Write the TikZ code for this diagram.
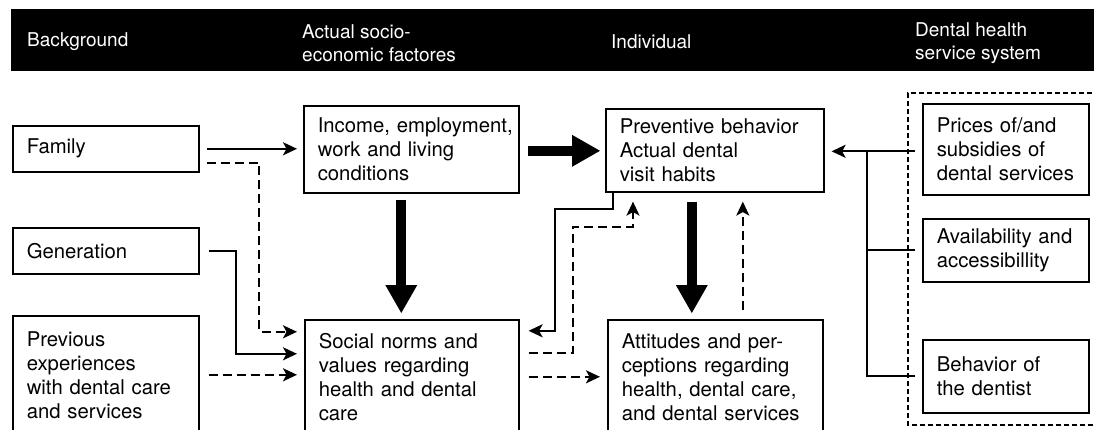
\documentclass[tikz,border=0pt]{standalone}
\usepackage{fontspec}
\setmainfont{TeX Gyre Heros}
\usetikzlibrary{arrows.meta,calc}

\newcommand{\diagboxfont}{\fontsize{20.3pt}{24pt}\selectfont\hyphenpenalty=10000 }
\newcommand{\diagheadfont}{\fontsize{19pt}{23.5pt}\selectfont}

\begin{document}
\begin{tikzpicture}[x=1pt,y=-1pt,
  box/.style={draw, line width=1.6pt, anchor=north west, align=left,
    inner xsep=14pt, inner ysep=0pt, font=\diagboxfont},
  head/.style={anchor=west, align=left, inner sep=0pt, text=white, font=\diagheadfont},
  thn/.style={line width=2.1pt},
  dsh/.style={line width=2.1pt, dash pattern=on 9pt off 5pt},
  tip/.style={-{Stealth[length=14pt,width=13pt,inset=3.5pt]}},
  bigarrow/.style={line width=10pt, -{Triangle[length=28pt,width=32pt,line width=0pt]}},
  frame/.style={line width=1.2pt, dash pattern=on 5pt off 3pt}
]
\useasboundingbox (0,0) rectangle (1094,430);
\clip (0,0) rectangle (1094,430);

% header bar
\fill (11,9) rectangle (1100,71);
\node[head] (hbg)  at (27,42)  {Background};
\node[head] (hses) at (302,43) {Actual socio-\\economic factores};
\node[head] (hind) at (611,42) {Individual};
\node[head] (hdhs) at (915,43) {Dental health\\service system};

% background column
\node[box, text width=158pt, minimum height=46pt]  (family)     at (12,125) {Family};
\node[box, text width=158pt, minimum height=46pt]  (generation) at (12,227) {Generation};
\node[box, text width=158pt, minimum height=118pt] (previous)   at (12,315)
  {Previous\\experiences\\with dental care\\and services};

% socio-economic column
\node[box, text width=187pt, minimum height=87pt]  (income) at (303,105)
  {\mbox{Income, employment,}\\work and living\\conditions};
\node[box, text width=186pt, minimum height=114pt] (social) at (304,319)
  {Social norms and\\values regarding\\health and dental\\care};

% individual column
\node[box, text width=190pt, minimum height=83pt]  (preventive) at (605,108)
  {Preventive behavior\\Actual dental\\visit habits};
\node[box, text width=187pt, minimum height=114pt] (attitudes) at (607,319)
  {Attitudes and per-\\ceptions regarding\\health, dental care,\\\mbox{and dental services}};

% dental health service system
\draw[frame] (1100,93) -- (908,93) -- (908,425) -- (1100,425);
\node[box, text width=138pt, minimum height=91pt] (prices) at (922,103)
  {Prices of/and\\subsidies of\\\mbox{dental services}};
\node[box, text width=138pt, minimum height=63pt] (avail) at (922,218)
  {\mbox{Availability and}\\accessibillity};
\node[box, text width=138pt, minimum height=73pt] (behavior) at (922,339)
  {Behavior of\\the dentist};

% background -> social norms / income
\draw[thn,tip] ([xshift=7pt]family.east) -- ($(family.east -| income.west)+(-6,0)$);
\draw[dsh,tip] ([shift={(7,14)}]family.east) -| ($(social.west)+(-45,-45)$)
  -- ($(social.west)+(-7,-45)$);
\draw[thn,tip] ([xshift=9pt]generation.east) -| ($(social.west)+(-68,-23)$)
  -- ($(social.west)+(-7,-23)$);
\draw[dsh,tip] ([xshift=9pt]previous.east) -- ($(previous.east -| social.west)+(-7,0)$);

% main causal arrows
\draw[bigarrow] ($(income.east)+(8,1.5)$) -- ($(income.east -| preventive.west)+(-5,1.5)$);
\draw[bigarrow] ($(income.south)+(-10,6)$) -- ($(income.south |- social.north)+(-10,-6)$);
\draw[bigarrow] ($(preventive.south)+(-23,9)$) -- ($(preventive.south |- attitudes.north)+(-23,-6)$);

% feedback between individual and norms
\draw[dsh,tip] ($(preventive.south |- attitudes.north)+(28,-9)$) -- ($(preventive.south)+(28,9)$);
\draw[thn,tip] ($(preventive.south west)+(8,0)$) -- ++(0,16)
  -| ($(social.east)+(35,-46)$) -- ($(social.east)+(9,-46)$);
\draw[dsh,tip] ($(social.east)+(9,-24)$) -| ($(preventive.south west)+(-32,34)$)
  -- ($(preventive.south west)+(28,34)$) -- ($(preventive.south west)+(28,9)$);
\draw[dsh,tip] ($(social.east)+(9,0)$) -- ($(social.east -| attitudes.west)+(-7,0)$);

% service system -> preventive behavior
\draw[thn,tip] ($(prices.west)+(-7,2)$) -- ($(prices.west -| preventive.east)+(7,2)$);
\coordinate (bus) at ($(prices.west)+(-55,2)$);
\draw[thn] ($(avail.west)+(-7,0)$) -- (avail.west -| bus);
\draw[thn] ($(behavior.west)+(-7,0)$) -| (bus);
\end{tikzpicture}
\end{document}
